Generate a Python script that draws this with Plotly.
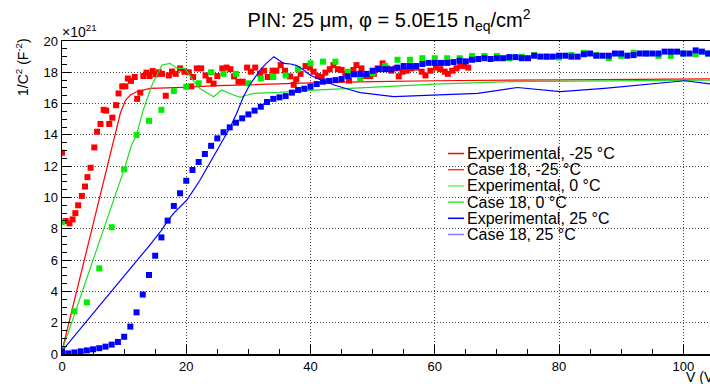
import plotly.graph_objects as go

# ---------------- data ----------------
# Experimental, -25 C (red squares)
red_v = [0, 0.6, 1.2, 1.7, 2.15, 2.6, 3.2, 3.7, 4.1, 4.6, 5.2, 5.65, 6.2, 6.7, 7.1, 7.6, 8.1, 8.7, 9.1, 9.7,
         10.2, 10.6, 11.1, 11.7, 12.1, 12.6, 13.1, 13.6, 14.1, 14.6, 15.1, 15.6, 16.1, 16.7, 17.2, 17.7, 18.3,
         19.0, 19.7, 20.4, 20.8, 21.1, 21.7, 22.4, 23.1, 23.7, 24.4, 25.0, 25.8, 26.5, 27.1, 27.7, 28.4, 29.1,
         29.8, 30.4, 31.1, 31.9, 32.5, 33.1, 33.9, 34.5, 35.2, 35.9, 36.7, 37.3, 37.7, 38.4, 39.2, 39.9, 40.5,
         41.2, 41.8, 42.4, 43.1, 43.7, 44.4, 45.0, 45.6, 46.2, 46.9, 47.4, 48.2, 48.9, 49.6, 50.2, 50.8, 51.6,
         52.3, 53.0, 53.7, 54.2, 54.8, 55.5, 56.2, 57.0, 57.9, 58.5, 59.3, 60.2, 60.9, 61.6, 62.1, 62.8, 63.5,
         64.1, 64.7, 65.4]
red_c = [12.86, 8.5, 8.35, 8.6, 9.0, 9.5, 10.1, 10.7, 11.3, 11.9, 13.2, 14.2, 14.7, 15.6, 15.55, 14.7, 15.1,
         15.9, 16.65, 17.1, 17.1, 17.6, 17.45, 17.7, 16.3, 16.7, 17.76, 17.98, 17.76, 18.08, 17.87, 18.0, 17.9,
         16.5, 17.8, 18.05, 17.9, 18.25, 18.04, 18.0, 17.1, 17.7, 18.25, 18.25, 17.8, 17.5, 17.28, 17.76, 18.25,
         18.3, 18.2, 17.74, 17.4, 17.4, 18.3, 18.04, 18.3, 17.9, 18.1, 17.7, 18.1, 18.1, 18.46, 18.1, 17.74,
         17.2, 17.55, 17.9, 18.4, 18.3, 18.04, 17.76, 17.7, 17.98, 18.2, 18.46, 18.2, 18.15, 17.9, 17.47, 18.15,
         18.46, 18.25, 17.76, 17.76, 17.9, 18.25, 18.57, 18.25, 18.1, 18.25, 17.74, 18.04, 18.1, 18.25, 18.3,
         18.04, 17.8, 18.1, 18.3, 18.2, 18.04, 17.9, 18.1, 18.25, 18.4, 18.4, 18.3]

# Experimental, 0 C (green squares)
green_v = [0, 2, 4, 6, 8, 10, 12, 14, 16, 18, 20, 22, 24, 26, 28, 30, 32, 34, 36, 38, 40, 42, 44, 46, 48, 50,
           52, 54, 56, 58, 60, 62, 64, 66, 68, 70, 72, 74, 76, 78, 80, 82, 84, 86, 88, 90, 92, 94, 96, 98, 100,
           102, 104]
green_c = [8.42, 2.73, 3.3, 5.47, 8.1, 11.8, 14.0, 14.9, 15.6, 16.8, 17.08, 17.3, 18.0, 17.9, 17.9, 17.3, 17.6,
           17.7, 17.8, 18.2, 18.57, 18.68, 18.68, 18.04, 17.6, 17.93, 18.4, 18.8, 18.8, 18.9, 18.9, 18.9, 18.9,
           19.04, 19.04, 19.04, 18.9, 19.0, 19.1, 19.0, 18.95, 19.1, 19.25, 19.1, 18.9, 19.05, 19.25, 19.2, 19.05,
           19.05, 19.2, 19.15, 19.2]

# Experimental, 25 C (blue squares)
blue_v = list(range(0, 105))
blue_c = [0.15, 0.04, 0.1, 0.17, 0.23, 0.3, 0.37, 0.47, 0.6, 0.77, 1.1, 1.75, 2.66, 3.8, 5.05, 6.28, 7.45, 8.52,
          9.46, 10.27, 11.07, 11.76, 12.27, 12.78, 13.3, 13.78, 14.17, 14.48, 14.78, 15.06, 15.31, 15.55, 15.8,
          16.1, 16.3, 16.4, 16.48, 16.7, 16.87, 16.95, 17.08, 17.25, 17.4, 17.45, 17.5, 17.57, 17.75, 17.87,
          17.9, 17.9, 18.1, 18.2, 18.2, 18.18, 18.3, 18.4, 18.4, 18.4, 18.53, 18.6, 18.6, 18.6, 18.6, 18.65,
          18.74, 18.7, 18.8, 18.85, 18.9, 18.85, 18.9, 18.9, 18.97, 18.97, 18.9, 18.9, 19.06, 19.0, 19.0, 19.0,
          19.06, 19.06, 19.0, 19.0, 19.15, 19.2, 19.06, 19.06, 19.06, 19.2, 19.2, 19.06, 19.1, 19.2, 19.2, 19.2,
          19.2, 19.32, 19.32, 19.32, 19.2, 19.2, 19.4, 19.32, 19.2]

# Case 18 simulations (lines)
sim_red_v = [0, 2, 4, 6, 8, 8.8, 9.4, 10.2, 11, 12, 14.2, 19.6, 25, 30, 40, 50, 60, 80, 100, 104.5]
sim_red_c = [0.2, 3.45, 6.7, 9.9, 13.2, 14.6, 15.4, 16.2, 16.55, 16.76, 16.97, 17.04, 17.15, 17.2, 17.33,
             17.4, 17.46, 17.52, 17.57, 17.58]

sim_green_v = [0, 2, 4, 6, 8, 10, 11.2, 12, 13, 14.5, 16.1, 17.4, 18.5, 19.8, 20.9, 22.2, 24.4, 25.7, 27.6,
               28.7, 29.8, 30.9, 35, 40, 48, 50, 60, 72, 80, 100, 104.5]
sim_green_c = [0.2, 2.5, 4.85, 7.15, 9.5, 11.8, 13.35, 14.0, 15.5, 17.2, 18.47, 18.57, 18.25, 18.25, 17.6,
               16.97, 16.44, 16.87, 16.55, 16.4, 16.55, 16.65, 16.72, 16.85, 17.0, 17.04, 17.25, 17.4, 17.42,
               17.48, 17.5]

sim_blue_v = [0, 2, 4, 6, 8, 10, 12, 14, 16, 17.1, 18, 20.1, 22.2, 24.4, 25.7, 27.1, 28.1, 29.2, 30.2, 31.9,
              32.9, 34.1, 35.7, 36.8, 37.8, 38.9, 39.9, 41.1, 42.6, 43.8, 46.5, 48, 53.4, 60, 66.9, 73.3, 80.2,
              87.3, 93, 100.2, 104.5]
sim_blue_c = [0.2, 1.15, 2.1, 3.05, 4.0, 4.94, 5.9, 6.9, 7.9, 8.56, 9.0, 9.84, 11.1, 12.6, 13.46, 14.5, 15.37,
              16.44, 17.19, 18.15, 18.57, 19.0, 18.57, 18.53, 18.43, 18.15, 17.83, 17.6, 17.4, 17.19, 16.87,
              16.7, 16.44, 16.55, 16.65, 17.03, 16.76, 16.97, 17.2, 17.46, 17.25]

legend_labels = ["Experimental, -25 \u00b0C", "Case 18, -25 \u00b0C", "Experimental, 0 \u00b0C",
                 "Case 18, 0 \u00b0C", "Experimental, 25 \u00b0C", "Case 18, 25 \u00b0C"]
legend_colors = ["#ff0000", "#ff3030", "#66ff66", "#33ee33", "#0000ff", "#7f7fff"]

x_ticks = [0, 20, 40, 60, 80, 100]
y_ticks = [0, 2, 4, 6, 8, 10, 12, 14, 16, 18, 20]

# ---------------- figure ----------------
FONT = "Liberation Sans, Arial, Helvetica, sans-serif"
fig = go.Figure()

def add_exp(v, c, col):
    fig.add_trace(go.Scatter(x=v, y=c, mode="markers",
                             marker=dict(symbol="square", size=6, color=col, line=dict(width=0)),
                             showlegend=False, hoverinfo="skip"))

def add_sim(v, c, col):
    fig.add_trace(go.Scatter(x=v, y=c, mode="lines", line=dict(color=col, width=1.2),
                             showlegend=False, hoverinfo="skip"))

add_exp(red_v, red_c, "#ff0000")
add_sim(sim_red_v, sim_red_c, "#ff0000")
add_exp(green_v, green_c, "#00ee00")
add_sim(sim_green_v, sim_green_c, "#22dd22")
add_exp(blue_v, blue_c, "#0000ff")
add_sim(sim_blue_v, sim_blue_c, "#0000ff")

W, H = 710, 384
# plot area in window pixels: x 62..710, y 41..354
L, R, T, B = 62, 0, 41, H - 354
pw, ph = W - L - R, H - T - B

def pxx(px):
    return (px - L) / pw

def pxy(py):
    return (H - B - py) / ph

annotations = []
shapes = []
row_y = [153.5, 169.7, 185.9, 202.1, 218.3, 234.5]
for lab, col, ry in zip(legend_labels, legend_colors, row_y):
    shapes.append(dict(type="line", xref="paper", yref="paper", x0=pxx(448), x1=pxx(464),
                       y0=pxy(ry), y1=pxy(ry), line=dict(color=col, width=1.5)))
    annotations.append(dict(text=lab, xref="paper", yref="paper", x=pxx(465), y=pxy(ry),
                            xanchor="left", yanchor="middle", showarrow=False,
                            font=dict(family=FONT, size=16, color="black")))

# exponent label
annotations.append(dict(text="\u00d710<sup>21</sup>", xref="paper", yref="paper", x=pxx(60), y=pxy(42),
                        xanchor="left", yanchor="bottom", showarrow=False,
                        font=dict(family=FONT, size=14, color="black")))
# y axis title
annotations.append(dict(text="1/C<sup>2</sup> (F<sup>-2</sup>)", xref="paper", yref="paper",
                        x=pxx(22), y=pxy(67), textangle=-90, xanchor="center", yanchor="middle",
                        showarrow=False, font=dict(family=FONT, size=14, color="black")))
# x axis title
annotations.append(dict(text="V (V)", xref="paper", yref="paper", x=pxx(684), y=pxy(377),
                        xanchor="left", yanchor="middle", showarrow=False,
                        font=dict(family=FONT, size=14, color="black")))

fig.update_layout(
    width=W, height=H,
    margin=dict(l=L, r=R, t=T, b=B, pad=0),
    paper_bgcolor="white", plot_bgcolor="white",
    showlegend=False,
    title=dict(text="PIN: 25 \u03bcm, \u03c6 = 5.0E15 n<sub>eq</sub>/cm<sup>2</sup>",
               x=389 / W, xanchor="center", y=1 - 20 / H, yanchor="middle",
               font=dict(family=FONT, size=20, color="black")),
    annotations=annotations,
    shapes=shapes,
    font=dict(family=FONT, color="black"),
)

fig.update_xaxes(range=[0, 104.3], tickvals=x_ticks, ticktext=[str(t) for t in x_ticks],
                 showline=True, linecolor="black", linewidth=1.5, mirror=True,
                 ticks="inside", ticklen=9, tickwidth=1, tickcolor="black",
                 minor=dict(dtick=5, tick0=0, ticks="inside", ticklen=5, tickcolor="black", showgrid=False),
                 showgrid=True, gridcolor="#444", griddash="1px,2px", gridwidth=1,
                 zeroline=False, automargin=False, tickfont=dict(family=FONT, size=13, color="black"))
fig.update_yaxes(range=[0, 20], tickvals=y_ticks, ticktext=[str(t) for t in y_ticks],
                 showline=True, linecolor="black", linewidth=1.5, mirror=False,
                 ticks="inside", ticklen=9, tickwidth=1, tickcolor="black",
                 minor=dict(dtick=0.5, tick0=0, ticks="inside", ticklen=5, tickcolor="black", showgrid=False),
                 showgrid=True, gridcolor="#444", griddash="1px,2px", gridwidth=1,
                 zeroline=False, automargin=False, tickfont=dict(family=FONT, size=13, color="black"))

# remove the default 8px page margin so the 710x384 figure fills the window exactly
fig.write_html("out.html",
               config={"displayModeBar": False, "staticPlot": True},
               post_script="document.body.style.margin='0';document.body.style.overflow='hidden';")
